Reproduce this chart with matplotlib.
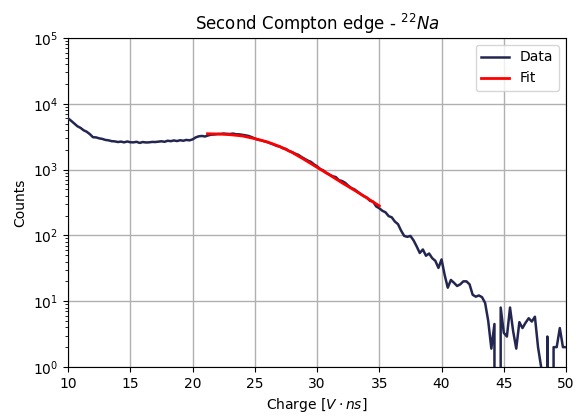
import matplotlib
matplotlib.use("Agg")
import matplotlib.pyplot as plt

charge = [10.0, 10.25, 10.5, 10.75, 11.0, 11.25, 11.5, 11.75, 12.0, 12.25, 12.5, 12.75,
          13.0, 13.25, 13.5, 13.75, 14.0, 14.25, 14.5, 14.75, 15.0, 15.25, 15.5, 15.75,
          16.0, 16.25, 16.5, 16.75, 17.0, 17.25, 17.5, 17.75, 18.0, 18.25, 18.5, 18.75,
          19.0, 19.25, 19.5, 19.75, 20.0, 20.25, 20.5, 20.75, 21.0, 21.25, 21.5, 21.75,
          22.0, 22.25, 22.5, 22.75, 23.0, 23.25, 23.5, 23.75, 24.0, 24.25, 24.5, 24.75,
          25.0, 25.25, 25.5, 25.75, 26.0, 26.25, 26.5, 26.75, 27.0, 27.25, 27.5, 27.75,
          28.0, 28.25, 28.5, 28.75, 29.0, 29.25, 29.5, 29.75, 30.0, 30.25, 30.5, 30.75,
          31.0, 31.25, 31.5, 31.75, 32.0, 32.25, 32.5, 32.75, 33.0, 33.25, 33.5, 33.75,
          34.0, 34.25, 34.5, 34.75, 35.0, 35.25, 35.5, 35.75, 36.0, 36.25, 36.5, 36.75,
          37.0, 37.25, 37.5, 37.75, 38.0, 38.25, 38.5, 38.75, 39.0, 39.25, 39.5, 39.75,
          40.0, 40.25, 40.5, 40.75, 41.0, 41.25, 41.5, 41.75, 42.0, 42.25, 42.5, 42.75,
          43.0, 43.25, 43.5, 43.75, 44.0, 44.25, 44.5, 44.75, 45.0, 45.25, 45.5, 45.75,
          46.0, 46.25, 46.5, 46.75, 47.0, 47.25, 47.5, 47.75, 48.0, 48.25, 48.5, 48.75,
          49.0, 49.25, 49.5, 49.75, 50.0]
counts = [6000, 5500, 5000, 4550, 4300, 3950, 3750, 3450, 3100, 3080, 2980, 2920,
          2820, 2780, 2700, 2680, 2620, 2660, 2590, 2670, 2600, 2590, 2640, 2540,
          2620, 2580, 2590, 2630, 2620, 2650, 2690, 2640, 2740, 2700, 2770, 2710,
          2790, 2740, 2820, 2780, 2870, 3080, 3200, 3240, 3180, 3300, 3390, 3410,
          3460, 3480, 3530, 3490, 3470, 3520, 3440, 3430, 3370, 3310, 3240, 3110,
          2960, 2840, 2790, 2690, 2610, 2510, 2410, 2290, 2230, 2110, 2060, 1910,
          1840, 1740, 1670, 1550, 1460, 1370, 1310, 1200, 1120, 1020, 970, 890,
          840, 790, 770, 690, 670, 630, 570, 525, 500, 460, 425, 395,
          375, 335, 325, 275, 258, 236, 224, 196, 188, 162, 148, 118,
          98, 95, 98, 84, 68, 54, 61, 49, 53, 45, 41, 32,
          43, 25, 16, 21, 19, 17, 18, 20, 20, 18, 12.5, 11.7,
          12.2, 11.5, 9.4, 5, 1.9, 4.5, 0, 8, 3.3, 2.9, 8, 3.5,
          1.9, 4.8, 3.9, 4.7, 5.5, 4.9, 5.8, 2.0, 1.0, 0, 2.9, 0,
          2, 2, 3.9, 2, 2]

fit_x = [21.2, 22.0, 23.0, 24.0, 25.0, 26.0, 27.0, 28.0, 29.0, 30.0,
         31.0, 32.0, 33.0, 34.0, 35.0]
fit_y = [3500, 3470, 3390, 3240, 2950, 2630, 2240, 1820, 1410, 1080,
         830, 630, 485, 370, 280]

fig = plt.figure(figsize=(5.77, 4.17), dpi=100)
ax = fig.add_axes([0.118, 0.12, 0.863, 0.789])
ax.plot(charge, counts, color="#232650", lw=1.8, label="Data", zorder=3)
ax.plot(fit_x, fit_y, color="red", lw=2, label="Fit", zorder=4)
ax.set_yscale("log")
ax.set_xlim(10, 50)
ax.set_ylim(1, 1e5)
ax.grid(True, which="major", color="#b0b0b0", lw=1)
ax.set_axisbelow(True)
ax.set_title(r"Second Compton edge - $^{22}Na$")
ax.set_xlabel(r"Charge [$V \cdot ns$]")
ax.set_ylabel("Counts")
ax.legend(loc="upper right")
fig.savefig("out.png", dpi=100)
